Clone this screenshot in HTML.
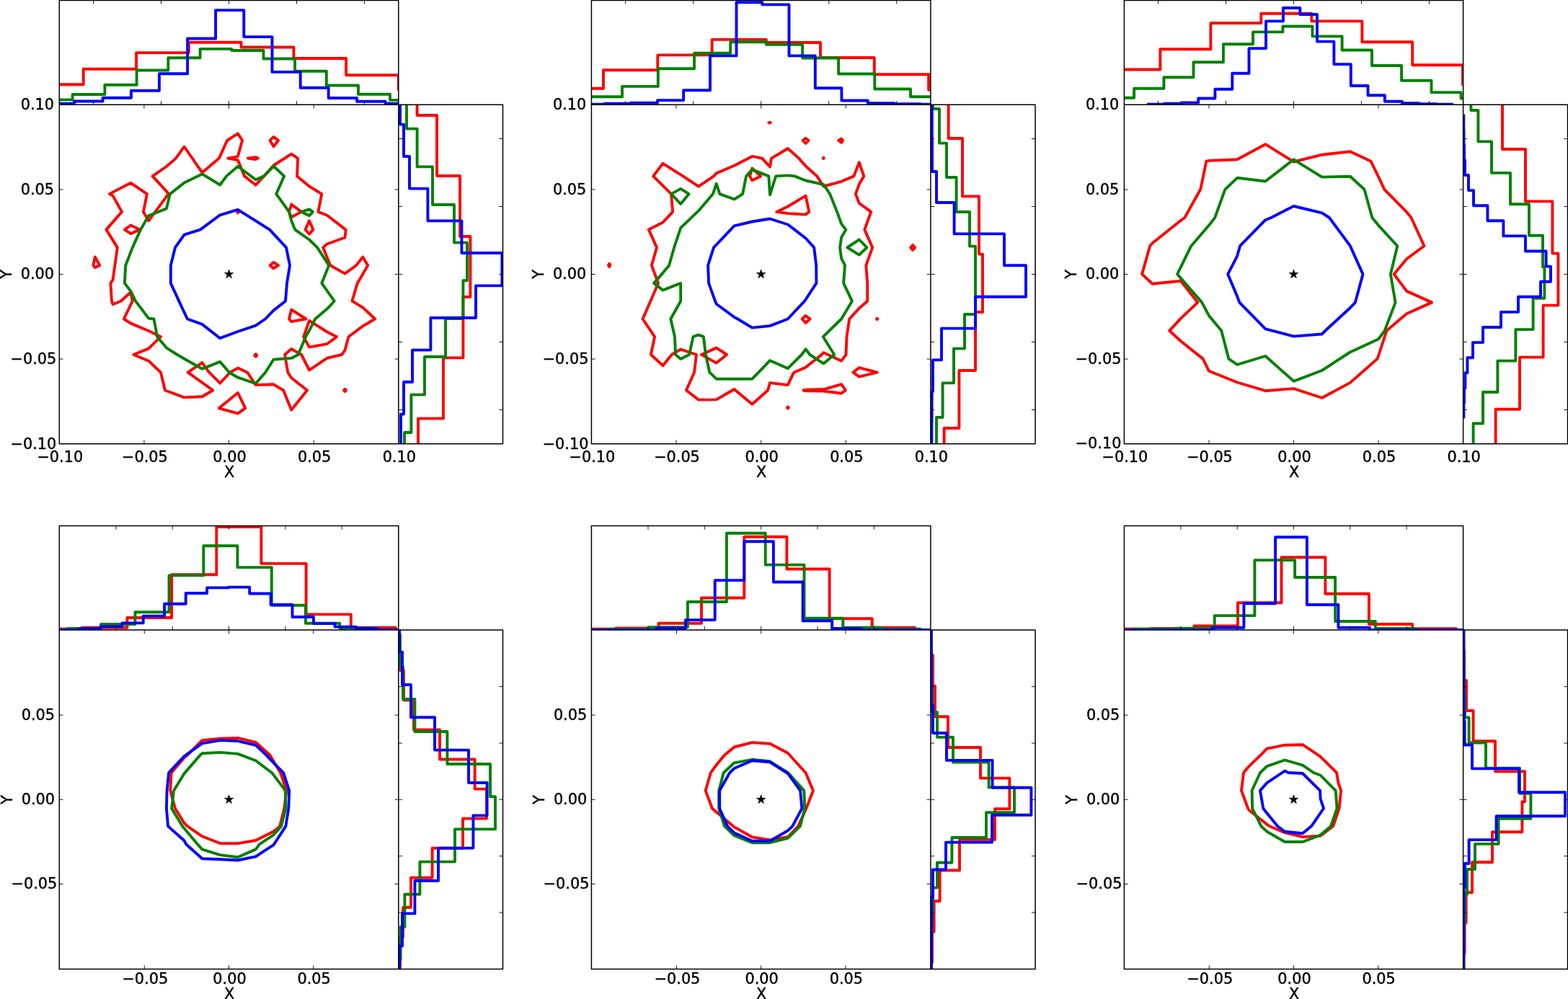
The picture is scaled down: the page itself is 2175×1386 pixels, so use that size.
<!DOCTYPE html>
<html lang="en">
<head>
<meta charset="utf-8">
<title>Contour and marginal histogram panels</title>
<style>
html,body{margin:0;padding:0;background:#fff;}
body{width:2175px;height:1386px;overflow:hidden;}
svg{display:block;}
.ln path{fill:none;stroke-linejoin:round;stroke-linecap:butt;stroke-miterlimit:10;}
.ct path{fill:none;stroke-linejoin:round;stroke-linecap:butt;stroke-miterlimit:4;}
.sp rect,.sp path{fill:none;stroke:#000;stroke-width:1.5;stroke-linejoin:round;}
.tk{fill:none;stroke:#000;stroke-width:0.9;}
.tx text{font-family:"DejaVu Sans","Liberation Sans",sans-serif;font-size:20.8px;fill:#000;stroke:#000;stroke-width:0.45px;stroke-linejoin:round;}
</style>
</head>
<body>
<svg width="2175" height="1386" viewBox="0 0 2175 1386">
<rect width="2175" height="1386" fill="#fff"/>
<clipPath id="c1"><rect x="82.3" y="0.4" width="470.5" height="144.9"/></clipPath>
<g clip-path="url(#c1)" class="ln">
<path d="M42.9 117.3 L115.7 117.3 L115.7 95.8 L189.1 95.8 L189.1 73.1 L262 73.1 L262 58.8 L334.5 58.8 L334.5 65.5 L407.4 65.5 L407.4 81 L480.1 81 L480.1 104.2 L552.9 104.2 L552.9 124.5 L626 124.5" stroke="#ff0000" stroke-width="3.9"/>
<path d="M56.7 138.4 L100.6 138.4 L100.6 131 L145.4 131 L145.4 117.8 L189.6 117.8 L189.6 97.5 L233.3 97.5 L233.3 80.3 L277.6 80.3 L277.6 67.9 L321.3 67.9 L321.3 70 L365.5 70 L365.5 81.5 L409.1 81.5 L409.1 98.7 L452.8 98.7 L452.8 118.5 L497 118.5 L497 130.7 L541 130.7 L541 138.9 L585 138.9" stroke="#008000" stroke-width="3.9"/>
<path d="M63.8 143.6 L103 143.6 L103 140.5 L142.5 140.5 L142.5 135.8 L181.9 135.8 L181.9 125.7 L220.9 125.7 L220.9 102.3 L260.1 102.3 L260.1 53.5 L299.1 53.5 L299.1 14.1 L338.3 14.1 L338.3 51.1 L377.5 51.1 L377.5 99.9 L416.7 99.9 L416.7 121.7 L455.7 121.7 L455.7 136 L495.1 136 L495.1 140.8 L534.6 140.8 L534.6 143.6 L573.8 143.6" stroke="#0000ff" stroke-width="3.9"/>
</g>
<clipPath id="c2"><rect x="552.8" y="145.3" width="144.7" height="470.4"/></clipPath>
<g clip-path="url(#c2)" class="ln">
<path d="M578.6 76 L578.6 160 L606 160 L606 244 L638 244 L638 328 L652.4 328 L652.4 412 L642.4 412 L642.4 496.4 L615 496.4 L615 580.6 L580 580.6 L580 664.8" stroke="#ff0000" stroke-width="3.9"/>
<path d="M564 126 L564 178.6 L578.6 178.6 L578.6 231.4 L600 231.4 L600 284 L630 284 L630 336.6 L648 336.6 L648 389.2 L642.4 389.2 L642.4 442 L618 442 L618 495 L589 495 L589 547.6 L570.4 547.6 L570.4 600 L561 600 L561 652.6" stroke="#008000" stroke-width="3.9"/>
<path d="M555 128 L555 172.6 L560 172.6 L560 217 L568 217 L568 261.6 L593.4 261.6 L593.4 306.4 L640.4 306.4 L640.4 351 L696.4 351 L696.4 396.4 L660 396.4 L660 441 L597.4 441 L597.4 485.6 L572 485.6 L572 530 L560 530 L560 574.6 L556 574.6 L556 619.2" stroke="#0000ff" stroke-width="3.9"/>
</g>
<clipPath id="c3"><rect x="82.3" y="145.3" width="470.5" height="470.4"/></clipPath>
<g clip-path="url(#c3)" class="ct">
<path d="M162.8 343.4 L147.4 318.6 L169 293.9 L156.6 271.6 L151.9 269.1 L156.6 266.6 L181.4 253.8 L203.9 269.1 L198.9 293.9 L206.1 306.3 L230.9 272.8 L233.9 269.1 L230.9 265.4 L211.6 244.4 L230.9 231 L244 219.6 L255.6 203.5 L280.4 239.4 L303.9 219.6 L305.2 216.9 L315.1 194.8 L329.9 185.4 L336.1 194.8 L329.9 217.1 L316.1 219.6 L329.9 222.1 L339.1 244.4 L354.7 256.7 L366.1 244.4 L379.5 229.5 L404.2 213.6 L413.1 219.6 L412.1 244.4 L429 258.5 L446.3 269.1 L441.4 293.9 L453.7 298.8 L478.5 317.9 L479.7 318.6 L478.5 329.5 L453.7 338.5 L448.1 343.4 L458.2 368.2 L478.5 379.6 L494.1 368.2 L503.3 356.5 L510.2 368.2 L495.8 392.9 L488.4 417.7 L503.3 426.6 L520.1 442.5 L503.3 452.4 L483.5 467.2 L478.5 485.8 L474.1 492 L453.7 496.9 L429 513.5 L418.1 492 L404.2 484.1 L395.1 492 L399.3 516.7 L404.2 524.2 L426 541.5 L404.2 568.8 L393.1 541.5 L379.5 533.3 L354.7 534.1 L343.1 516.7 L329.9 510.6 L319 516.7 L305.2 531.6 L290.1 516.7 L280.4 503.1 L260.6 516.7 L295.3 541.5 L280.4 550.2 L255.6 551.4 L228.9 541.5 L223 516.7 L206.1 500.7 L185.3 492 L206.1 483.6 L223 467.2 L206.1 459 L181.4 448.6 L171.9 442.5 L183.8 417.7 L181.4 405.3 L167.7 417.7 L156.6 422.2 L154.9 417.7 L153.4 392.9 L156.6 388Z" stroke="#ff0000" stroke-width="3.9"/>
<path d="M379.5 189.9 L386.1 194.8 L379.5 203.2 L374.5 194.8Z" stroke="#ff0000" stroke-width="3.9"/>
<path d="M343.6 219.6 L354.7 218.1 L357.9 219.6 L354.7 221.1Z" stroke="#ff0000" stroke-width="3.9"/>
<path d="M181.4 312.5 L193.7 318.6 L181.4 324.1 L172.9 318.6Z" stroke="#ff0000" stroke-width="3.9"/>
<path d="M131.8 356.5 L138.3 368.2 L131.8 371.1 L129.3 368.2Z" stroke="#ff0000" stroke-width="3.9"/>
<path d="M379.5 364 L386.1 368.2 L379.5 372.4 L374.5 368.2Z" stroke="#ff0000" stroke-width="3.9"/>
<path d="M429 306.3 L434.4 318.6 L429 324.6 L423.5 318.6Z" stroke="#ff0000" stroke-width="3.9"/>
<path d="M404.2 283.5 L418.1 293.9 L404.2 301.3 L401 293.9Z" stroke="#ff0000" stroke-width="3.9"/>
<path d="M329.9 293.4 L330.9 294.4 L329.9 295.4 L328.9 294.4Z" stroke="#ff0000" stroke-width="3.9"/>
<path d="M329.9 545 L340.3 566.3 L329.9 573.7 L303.7 566.3Z" stroke="#ff0000" stroke-width="3.9"/>
<path d="M404.2 429.6 L424.5 442.5 L404.2 446.2 L401 442.5Z" stroke="#ff0000" stroke-width="3.9"/>
<path d="M429 444.9 L453.7 460.5 L467.1 467.2 L453.7 477.1 L429 481.6 L421.1 467.2Z" stroke="#ff0000" stroke-width="3.9"/>
<path d="M354.7 491.2 L356.4 493 L354.7 494.7 L353 493Z" stroke="#ff0000" stroke-width="3.9"/>
<path d="M478.5 540 L480 541.5 L478.5 543 L477 541.5Z" stroke="#ff0000" stroke-width="3.9"/>
<path d="M188 417.7 L181.4 404.1 L172.9 392.9 L174.2 368.2 L183.8 343.4 L195 318.6 L206.1 299.3 L230.9 289.4 L235.8 269.1 L255.6 253.5 L280.4 241.4 L305.2 256.5 L314.1 244.4 L329.9 230.7 L354.7 249.3 L366.1 244.4 L379.5 230.5 L394.1 244.4 L383.2 269.1 L401 293.9 L404.2 306.3 L409.2 318.6 L429 332.5 L440.1 343.4 L456.2 368.2 L446.3 392.9 L463.7 417.7 L453.7 428.6 L437.2 442.5 L429 458.6 L424 467.2 L413.6 492 L404.2 496.9 L379.5 498.7 L368.1 516.7 L354.7 532.1 L329.9 523.7 L318 516.7 L305.2 501.9 L280.4 511.8 L255.6 497.7 L245.7 492 L230.9 482.6 L218 467.2 L213.5 442.5 L206.1 441.7Z" stroke="#008000" stroke-width="3.9"/>
<path d="M418.1 293.9 L429 290.4 L433.9 293.9 L429 299.3Z" stroke="#008000" stroke-width="3.9"/>
<path d="M236.8 392.9 L236.8 368.2 L243 343.4 L255.6 325.6 L277.9 318.6 L305.2 298.3 L329.9 290.9 L354.7 306.3 L374 318.6 L397 343.4 L402 368.2 L398 392.9 L396 417.7 L379.5 430.6 L368.1 442.5 L354.7 451.6 L329.9 460 L305.2 469.2 L280.4 449.9 L259.9 442.5 L248.2 417.7Z" stroke="#0000ff" stroke-width="3.9"/>
</g>
<polygon points="317.5,374 319,378.5 323.7,378.5 319.9,381.3 321.4,385.8 317.5,383 313.7,385.8 315.2,381.3 311.4,378.5 316.1,378.5" fill="#000" stroke="#000" stroke-width="0.7" stroke-linejoin="miter"/>
<g class="sp">
<path d="M82.3 145.3V0.4H552.8V145.3"/>
<path d="M552.8 145.3H697.5V615.8H552.8"/>
<rect x="82.3" y="145.3" width="470.5" height="470.4"/>
</g>
<path class="tk" d="M199.9 615.8v-5.2M199.9 145.3v5.2M82.3 498.1h5.2M552.8 498.1h-5.2M317.5 615.8v-5.2M317.5 145.3v5.2M82.3 380.5h5.2M552.8 380.5h-5.2M435.2 615.8v-5.2M435.2 145.3v5.2M82.3 262.9h5.2M552.8 262.9h-5.2M129.5 145.3v-5.2M129.5 0.4v5.2M552.8 568.5h5.2M697.5 568.5h-5.2M223.5 145.3v-5.2M223.5 0.4v5.2M552.8 474.5h5.2M697.5 474.5h-5.2M317.5 145.3v-5.2M317.5 0.4v5.2M552.8 380.5h5.2M697.5 380.5h-5.2M411.5 145.3v-5.2M411.5 0.4v5.2M552.8 286.5h5.2M697.5 286.5h-5.2M505.5 145.3v-5.2M505.5 0.4v5.2M552.8 192.5h5.2M697.5 192.5h-5.2"/>
<g class="tx">
<text x="83.3" y="640.7" text-anchor="middle">−0.10</text>
<text x="200.9" y="640.7" text-anchor="middle">−0.05</text>
<text x="318.5" y="640.7" text-anchor="middle">0.00</text>
<text x="436.2" y="640.7" text-anchor="middle">0.05</text>
<text x="553.8" y="640.7" text-anchor="middle">0.10</text>
<text x="78.3" y="622.6" text-anchor="end">−0.10</text>
<text x="78.3" y="504.9" text-anchor="end">−0.05</text>
<text x="75.1" y="387.3" text-anchor="end">0.00</text>
<text x="75.1" y="269.7" text-anchor="end">0.05</text>
<text x="75.1" y="152.1" text-anchor="end">0.10</text>
<text x="318" y="661.6" text-anchor="middle">X</text>
<text transform="translate(15.9 380.5) rotate(-90)" text-anchor="middle">Y</text>
</g>
<clipPath id="c4"><rect x="820.4" y="0.4" width="470.5" height="144.9"/></clipPath>
<g clip-path="url(#c4)" class="ln">
<path d="M761.8 122.8 L837 122.8 L837 97.2 L912.3 97.2 L912.3 76.4 L987.6 76.4 L987.6 54.9 L1062.9 54.9 L1062.9 59 L1138 59 L1138 80 L1212.8 80 L1212.8 103.2 L1288.1 103.2 L1288.1 124.7 L1363.3 124.7" stroke="#ff0000" stroke-width="3.9"/>
<path d="M813 134.3 L863 134.3 L863 119.9 L912.8 119.9 L912.8 95.3 L963 95.3 L963 73.8 L1013.2 73.8 L1013.2 58.3 L1062.9 58.3 L1062.9 61.8 L1113.1 61.8 L1113.1 80.5 L1163.1 80.5 L1163.1 102.5 L1213.3 102.5 L1213.3 123.5 L1263 123.5 L1263 134.3 L1313 134.3" stroke="#008000" stroke-width="3.9"/>
<path d="M802 144.6 L838.6 144.6 L838.6 143.8 L875 143.8 L875 142.7 L912 142.7 L912 139.1 L948.1 139.1 L948.1 125.2 L985 125.2 L985 77.4 L1021.5 77.4 L1021.5 3.3 L1057.4 3.3 L1057.4 6.4 L1094.5 6.4 L1094.5 77.4 L1130.8 77.4 L1130.8 122.3 L1167.4 122.3 L1167.4 139.5 L1203.7 139.5 L1203.7 143.1 L1240.3 143.1 L1240.3 144.1 L1276.9 144.1 L1276.9 144.6 L1313.5 144.6" stroke="#0000ff" stroke-width="3.9"/>
</g>
<clipPath id="c5"><rect x="1290.9" y="145.3" width="145.1" height="470.4"/></clipPath>
<g clip-path="url(#c5)" class="ln">
<path d="M1315.6 111.5 L1315.6 192 L1335 192 L1335 272.4 L1358 272.4 L1358 352.6 L1363 352.6 L1363 433 L1353 433 L1353 514 L1330.4 514 L1330.4 594 L1309.6 594 L1309.6 674.5" stroke="#ff0000" stroke-width="3.9"/>
<path d="M1294 103.4 L1294 151 L1303 151 L1303 198.6 L1313 198.6 L1313 246 L1326.6 246 L1326.6 294 L1345 294 L1345 341.6 L1353 341.6 L1353 389 L1353 389 L1353 436 L1338 436 L1338 483.6 L1323 483.6 L1323 531.4 L1307.6 531.4 L1307.6 579 L1299 579 L1299 626.6" stroke="#008000" stroke-width="3.9"/>
<path d="M1292.6 107 L1292.6 150.8 L1292.8 150.8 L1292.8 194.4 L1293 194.4 L1293 238 L1299 238 L1299 281 L1323.6 281 L1323.6 324.4 L1393 324.4 L1393 368.2 L1423 368.2 L1423 411.8 L1353 411.8 L1353 455.6 L1306 455.6 L1306 499.4 L1294 499.4 L1294 543 L1292.6 543 L1292.6 586.6 L1292.4 586.6 L1292.4 630.2" stroke="#0000ff" stroke-width="3.9"/>
</g>
<clipPath id="c6"><rect x="820.4" y="145.3" width="470.5" height="470.4"/></clipPath>
<g clip-path="url(#c6)" class="ct">
<path d="M903.9 368.2 L911 343.4 L899.9 318.6 L919.5 308.5 L933.1 293.9 L931.1 269.1 L906.1 244.4 L919.5 226.8 L944.2 242.4 L969 258.7 L990 244.4 L993.7 240.4 L1018.5 229.7 L1043.3 216.9 L1057.1 219.6 L1068 231.5 L1070 219.6 L1092.8 206 L1108.1 219.6 L1117.6 230.5 L1133.2 244.4 L1142.3 258.5 L1167.1 251.8 L1184.4 244.4 L1191.8 225.3 L1198.3 244.4 L1191.8 255.5 L1186.9 269.1 L1191.8 282 L1208.2 293.9 L1199.3 318.6 L1210.2 343.4 L1201.3 368.2 L1203.2 392.9 L1203.2 417.7 L1191.8 427.6 L1178.2 442.5 L1174.5 467.2 L1173.5 492 L1167.1 500.7 L1148.5 492 L1142.3 489.3 L1139.8 492 L1117.6 509.6 L1101.2 516.7 L1092.8 534.1 L1068 531.1 L1065.1 541.5 L1043.3 560.8 L1020.2 541.5 L1018.5 540 L1016 541.5 L993.7 554.4 L969 554.6 L951.9 541.5 L963 516.7 L966 492 L944.2 484.6 L931.8 492 L919.5 507.3 L902.9 492 L908.1 467.2 L891.5 442.5 L902.4 417.7 L913 392.9Z" stroke="#ff0000" stroke-width="3.9"/>
<path d="M1067.5 169.8 L1068.8 170.1 L1067.5 170.6 L1066.3 170.1Z" stroke="#ff0000" stroke-width="3.9"/>
<path d="M1117.6 191.9 L1121.5 194.8 L1117.6 198.8 L1113.6 194.8Z" stroke="#ff0000" stroke-width="3.9"/>
<path d="M1167.1 192.4 L1169.1 194.8 L1167.1 197.8 L1163.1 194.8Z" stroke="#ff0000" stroke-width="3.9"/>
<path d="M1142.3 218.7 L1142.9 219.3 L1142.3 220 L1141.7 219.3Z" stroke="#ff0000" stroke-width="3.9"/>
<path d="M1043.3 233.5 L1055.2 244.4 L1043.3 250.3 L1040 244.4Z" stroke="#ff0000" stroke-width="3.9"/>
<path d="M1117.6 271.6 L1122.3 293.9 L1117.6 297.6 L1092.8 296.1 L1077.2 293.9 L1092.8 286.5Z" stroke="#ff0000" stroke-width="3.9"/>
<path d="M845.2 365.7 L846.4 368.2 L845.2 370.1 L843.9 368.2Z" stroke="#ff0000" stroke-width="3.9"/>
<path d="M1266.1 339.9 L1269.1 343.4 L1266.1 346.9 L1263.2 343.4Z" stroke="#ff0000" stroke-width="3.9"/>
<path d="M993.7 482.6 L1008.1 492 L993.7 503.6 L972.9 492Z" stroke="#ff0000" stroke-width="3.9"/>
<path d="M1117.6 438 L1123.5 442.5 L1117.6 447.9 L1112.6 442.5Z" stroke="#ff0000" stroke-width="3.9"/>
<path d="M1216.6 441.7 L1217.4 442.5 L1216.6 443.2 L1215.9 442.5Z" stroke="#ff0000" stroke-width="3.9"/>
<path d="M1191.8 510.1 L1216.6 516.7 L1191.8 522.7 L1183.2 516.7Z" stroke="#ff0000" stroke-width="3.9"/>
<path d="M1114.3 541.5 L1117.6 540.8 L1142.3 540.3 L1167.1 533.1 L1173 541.5 L1167.1 545.7 L1142.3 542.5 L1117.6 542.3Z" stroke="#ff0000" stroke-width="3.9"/>
<path d="M1092.8 564.5 L1093.8 565.5 L1092.8 566.5 L1091.8 565.5Z" stroke="#ff0000" stroke-width="3.9"/>
<path d="M944.2 417.7 L944.2 392.9 L919.5 402.6 L907.1 392.9 L919.5 378.6 L928.1 368.2 L935.1 343.4 L944.2 316.2 L969 292.4 L989 269.1 L993.7 254.8 L998.4 269.1 L1018.5 276.5 L1030.1 269.1 L1035.1 244.4 L1043.3 235.4 L1066.3 244.4 L1068 270.4 L1076.2 244.4 L1092.8 243.4 L1102.2 244.4 L1117.6 250.5 L1142.3 256 L1151.2 269.1 L1161.1 293.9 L1167.1 310.5 L1173.3 318.6 L1167.1 329.5 L1165.1 343.4 L1167.1 358.5 L1172 368.2 L1170.1 392.9 L1181.9 417.7 L1167.1 442.5 L1141.8 467.2 L1157.2 492 L1142.3 504.4 L1123.3 492 L1117.6 484.3 L1112.1 492 L1092.8 511.1 L1068 500.2 L1052.2 516.7 L1043.3 525.7 L1018.5 525.7 L993.7 525.7 L984.3 516.7 L978.9 492 L975.9 467.2 L969 464.7 L961.5 467.2 L956.1 492 L944.2 497.9 L937 492 L936 467.2 L930.3 442.5Z" stroke="#008000" stroke-width="3.9"/>
<path d="M944.2 261.9 L955.6 269.1 L944.2 283 L931.1 269.1Z" stroke="#008000" stroke-width="3.9"/>
<path d="M1191.8 332.5 L1202.5 343.4 L1191.8 353.6 L1175.3 343.4Z" stroke="#008000" stroke-width="3.9"/>
<path d="M982.1 368.2 L990 343.4 L1018.5 313.4 L1043.3 307.5 L1068 303.5 L1092.8 311.5 L1102.2 318.6 L1117.6 330.5 L1129.2 343.4 L1132.2 368.2 L1132.4 392.9 L1116.1 417.7 L1092.8 442.5 L1068 452.1 L1043.3 454.6 L1023.2 442.5 L1018.5 440 L993.7 421.7 L992 417.7 L983.1 392.9Z" stroke="#0000ff" stroke-width="3.9"/>
</g>
<polygon points="1055.7,374 1057.1,378.5 1061.8,378.5 1058,381.3 1059.5,385.8 1055.7,383 1051.8,385.8 1053.3,381.3 1049.5,378.5 1054.2,378.5" fill="#000" stroke="#000" stroke-width="0.7" stroke-linejoin="miter"/>
<g class="sp">
<path d="M820.4 145.3V0.4H1290.9V145.3"/>
<path d="M1290.9 145.3H1436V615.8H1290.9"/>
<rect x="820.4" y="145.3" width="470.5" height="470.4"/>
</g>
<path class="tk" d="M938 615.8v-5.2M938 145.3v5.2M820.4 498.1h5.2M1290.9 498.1h-5.2M1055.7 615.8v-5.2M1055.7 145.3v5.2M820.4 380.5h5.2M1290.9 380.5h-5.2M1173.3 615.8v-5.2M1173.3 145.3v5.2M820.4 262.9h5.2M1290.9 262.9h-5.2M867.7 145.3v-5.2M867.7 0.4v5.2M1290.9 568.5h5.2M1436 568.5h-5.2M961.7 145.3v-5.2M961.7 0.4v5.2M1290.9 474.5h5.2M1436 474.5h-5.2M1055.7 145.3v-5.2M1055.7 0.4v5.2M1290.9 380.5h5.2M1436 380.5h-5.2M1149.7 145.3v-5.2M1149.7 0.4v5.2M1290.9 286.5h5.2M1436 286.5h-5.2M1243.7 145.3v-5.2M1243.7 0.4v5.2M1290.9 192.5h5.2M1436 192.5h-5.2"/>
<g class="tx">
<text x="821.4" y="640.7" text-anchor="middle">−0.10</text>
<text x="939" y="640.7" text-anchor="middle">−0.05</text>
<text x="1056.7" y="640.7" text-anchor="middle">0.00</text>
<text x="1174.3" y="640.7" text-anchor="middle">0.05</text>
<text x="1291.9" y="640.7" text-anchor="middle">0.10</text>
<text x="816.4" y="622.6" text-anchor="end">−0.10</text>
<text x="816.4" y="504.9" text-anchor="end">−0.05</text>
<text x="813.2" y="387.3" text-anchor="end">0.00</text>
<text x="813.2" y="269.7" text-anchor="end">0.05</text>
<text x="813.2" y="152.1" text-anchor="end">0.10</text>
<text x="1056.2" y="661.6" text-anchor="middle">X</text>
<text transform="translate(754 380.5) rotate(-90)" text-anchor="middle">Y</text>
</g>
<clipPath id="c7"><rect x="1559.4" y="0.4" width="470.2" height="144.9"/></clipPath>
<g clip-path="url(#c7)" class="ln">
<path d="M1539.5 96.5 L1609.4 96.5 L1609.4 68.3 L1679.4 68.3 L1679.4 32 L1749.3 32 L1749.3 18.8 L1819.3 18.8 L1819.3 29.4 L1889.4 29.4 L1889.4 58.3 L1959.2 58.3 L1959.2 90.3 L2029 90.3 L2029 117.2 L2099 117.2" stroke="#ff0000" stroke-width="3.9"/>
<path d="M1531.8 135.8 L1573.1 135.8 L1573.1 122.8 L1614.4 122.8 L1614.4 107.3 L1655.5 107.3 L1655.5 86.3 L1696.9 86.3 L1696.9 61.2 L1738 61.2 L1738 44.4 L1779.4 44.4 L1779.4 36.5 L1820.5 36.5 L1820.5 50.4 L1861.6 50.4 L1861.6 69.5 L1903 69.5 L1903 91 L1944.1 91 L1944.1 111.8 L1985.5 111.8 L1985.5 128.1 L2026.6 128.1 L2026.6 136.5 L2068 136.5" stroke="#008000" stroke-width="3.9"/>
<path d="M1591 144.6 L1614.9 144.6 L1614.9 143.6 L1638.8 143.6 L1638.8 142.5 L1662.2 142.5 L1662.2 136.5 L1685.4 136.5 L1685.4 123.8 L1709.3 123.8 L1709.3 101.8 L1732.5 101.8 L1732.5 67.1 L1756 67.1 L1756 29.4 L1779.9 29.4 L1779.9 11 L1803.3 11 L1803.3 20 L1827 20 L1827 57.6 L1850.4 57.6 L1850.4 89.1 L1873.8 89.1 L1873.8 119 L1897.5 119 L1897.5 132.2 L1920.9 132.2 L1920.9 140.8 L1944.8 140.8 L1944.8 143.2 L1968.7 143.2 L1968.7 144.1 L1992.2 144.1 L1992.2 144.8 L2016 144.8" stroke="#0000ff" stroke-width="3.9"/>
</g>
<clipPath id="c8"><rect x="2029.6" y="145.3" width="144.9" height="470.4"/></clipPath>
<g clip-path="url(#c8)" class="ln">
<path d="M2084 135 L2084 207 L2116 207 L2116 279.4 L2153.4 279.4 L2153.4 351.6 L2161.4 351.6 L2161.4 423.6 L2140.6 423.6 L2140.6 495.6 L2108 495.6 L2108 567.7 L2074.6 567.7 L2074.6 640" stroke="#ff0000" stroke-width="3.9"/>
<path d="M2040.4 109.6 L2040.4 153 L2050.4 153 L2050.4 196.4 L2069 196.4 L2069 239.9 L2095 239.9 L2095 283.3 L2121 283.3 L2121 326.8 L2140 326.8 L2140 370.2 L2142.4 370.2 L2142.4 413.7 L2126.6 413.7 L2126.6 457.1 L2102.4 457.1 L2102.4 500.6 L2077.4 500.6 L2077.4 544 L2057 544 L2057 587.5 L2043.6 587.5 L2043.6 631" stroke="#008000" stroke-width="3.9"/>
<path d="M2030.3 158.6 L2030.3 179.7 L2030.5 179.7 L2030.5 200.8 L2031 200.8 L2031 221.9 L2032 221.9 L2032 243 L2037 243 L2037 264.1 L2044 264.1 L2044 285.2 L2063.4 285.2 L2063.4 306.3 L2085.4 306.3 L2085.4 327.4 L2116 327.4 L2116 348.5 L2144.6 348.5 L2144.6 369.6 L2151 369.6 L2151 390.7 L2137 390.7 L2137 411.8 L2106 411.8 L2106 432.9 L2082 432.9 L2082 454 L2057 454 L2057 475.1 L2043 475.1 L2043 496.2 L2035.4 496.2 L2035.4 517.3 L2032.4 517.3 L2032.4 538.4 L2031 538.4 L2031 559.5 L2030.4 559.5 L2030.4 580.6" stroke="#0000ff" stroke-width="3.9"/>
</g>
<clipPath id="c9"><rect x="1559.4" y="145.3" width="470.2" height="470.4"/></clipPath>
<g clip-path="url(#c9)" class="ct">
<path d="M1584.1 380.4 L1595.1 341.2 L1598.6 337.3 L1637.8 306 L1643.3 302 L1665.2 262.8 L1673.4 223.7 L1677 222.9 L1716.1 221.3 L1755.3 200.2 L1794.5 224.5 L1833.7 214.7 L1872.9 210.3 L1901.5 223.7 L1912 245.2 L1920.3 262.8 L1951.2 294.2 L1957.5 302 L1975.5 341.2 L1951.2 359.2 L1933.6 380.4 L1951.2 403.9 L1986.1 419.6 L1951.2 435.3 L1923.4 458.8 L1912 494 L1910.5 497.9 L1872.9 530.9 L1833.7 552 L1794.5 539.1 L1755.3 542.2 L1716.1 530.5 L1677 514.8 L1668.7 497.9 L1637.8 473.3 L1622.1 458.8 L1637.8 441.9 L1661.3 419.6 L1637.8 389.8 L1598.6 393.7Z" stroke="#ff0000" stroke-width="3.9"/>
<path d="M1633.1 380.4 L1652.3 341.2 L1677 312.6 L1685.2 302 L1699.3 262.8 L1716.1 246.8 L1755.3 251.5 L1794.5 221.3 L1833.7 245.6 L1872.9 244.8 L1892.5 262.8 L1903.4 302 L1912 312.6 L1938.3 341.2 L1928.9 380.4 L1935.6 419.6 L1920.7 458.8 L1912 470.5 L1872.9 488.5 L1858.4 497.9 L1833.7 514 L1794.5 528.9 L1755.3 494 L1716.1 505.8 L1704.4 497.9 L1694.2 458.8 L1677 438 L1667.2 419.6 L1637.8 385.9Z" stroke="#008000" stroke-width="3.9"/>
<path d="M1703.2 380.4 L1716.1 355.3 L1720.1 341.2 L1755.3 305.2 L1763.2 302 L1794.5 286 L1833.7 295.4 L1843.9 302 L1872.9 341.2 L1890.5 380.4 L1879.9 419.6 L1872.9 427 L1838.4 458.8 L1833.7 463.5 L1794.5 466.6 L1755.3 456.4 L1719.3 419.6 L1716.1 411Z" stroke="#0000ff" stroke-width="3.9"/>
</g>
<polygon points="1794.5,374 1796,378.5 1800.7,378.5 1796.9,381.3 1798.3,385.8 1794.5,383 1790.7,385.8 1792.1,381.3 1788.3,378.5 1793,378.5" fill="#000" stroke="#000" stroke-width="0.7" stroke-linejoin="miter"/>
<g class="sp">
<path d="M1559.4 145.3V0.4H2029.6V145.3"/>
<path d="M2029.6 145.3H2174.5V615.8H2029.6"/>
<rect x="1559.4" y="145.3" width="470.2" height="470.4"/>
</g>
<path class="tk" d="M1677 615.8v-5.2M1677 145.3v5.2M1559.4 498.1h5.2M2029.6 498.1h-5.2M1794.5 615.8v-5.2M1794.5 145.3v5.2M1559.4 380.5h5.2M2029.6 380.5h-5.2M1912 615.8v-5.2M1912 145.3v5.2M1559.4 263h5.2M2029.6 263h-5.2M1606.5 145.3v-5.2M1606.5 0.4v5.2M2029.6 568.5h5.2M2174.5 568.5h-5.2M1700.5 145.3v-5.2M1700.5 0.4v5.2M2029.6 474.5h5.2M2174.5 474.5h-5.2M1794.5 145.3v-5.2M1794.5 0.4v5.2M2029.6 380.5h5.2M2174.5 380.5h-5.2M1888.5 145.3v-5.2M1888.5 0.4v5.2M2029.6 286.5h5.2M2174.5 286.5h-5.2M1982.5 145.3v-5.2M1982.5 0.4v5.2M2029.6 192.5h5.2M2174.5 192.5h-5.2"/>
<g class="tx">
<text x="1560.4" y="640.7" text-anchor="middle">−0.10</text>
<text x="1678" y="640.7" text-anchor="middle">−0.05</text>
<text x="1795.5" y="640.7" text-anchor="middle">0.00</text>
<text x="1913" y="640.7" text-anchor="middle">0.05</text>
<text x="2030.6" y="640.7" text-anchor="middle">0.10</text>
<text x="1555.4" y="622.4" text-anchor="end">−0.10</text>
<text x="1555.4" y="504.9" text-anchor="end">−0.05</text>
<text x="1552.2" y="387.3" text-anchor="end">0.00</text>
<text x="1552.2" y="269.8" text-anchor="end">0.05</text>
<text x="1552.2" y="152.2" text-anchor="end">0.10</text>
<text x="1795" y="661.6" text-anchor="middle">X</text>
<text transform="translate(1493 380.5) rotate(-90)" text-anchor="middle">Y</text>
</g>
<clipPath id="c10"><rect x="82.3" y="729.4" width="470.5" height="144.6"/></clipPath>
<g clip-path="url(#c10)" class="ln">
<path d="M51.6 872.7 L113.8 872.7 L113.8 870.8 L176.4 870.8 L176.4 857 L238.1 857 L238.1 797.2 L300.3 797.2 L300.3 731 L362.4 731 L362.4 781.9 L424.6 781.9 L424.6 852.4 L486.8 852.4 L486.8 870.8 L548.9 870.8 L548.9 873.9 L611 873.9" stroke="#ff0000" stroke-width="3.9"/>
<path d="M46.2 873.9 L93.5 873.9 L93.5 872 L140.1 872 L140.1 866 L187.4 866 L187.4 849.3 L234.5 849.3 L234.5 798.4 L282.3 798.4 L282.3 757.3 L329.4 757.3 L329.4 787.1 L376.8 787.1 L376.8 839.7 L423.9 839.7 L423.9 864.8 L471.2 864.8 L471.2 871.5 L518.6 871.5 L518.6 873.9 L565.8 873.9" stroke="#008000" stroke-width="3.9"/>
<path d="M80.7 873.9 L110.2 873.9 L110.2 872 L139.6 872 L139.6 869.1 L169.3 869.1 L169.3 864.4 L198.7 864.4 L198.7 854.6 L228.1 854.6 L228.1 837.8 L257.7 837.8 L257.7 823 L287.1 823 L287.1 815.4 L317 815.4 L317 814.6 L346.2 814.6 L346.2 823.5 L375.6 823.5 L375.6 839 L405.5 839 L405.5 856 L434.9 856 L434.9 865.1 L464.5 865.1 L464.5 869.6 L493.9 869.6 L493.9 871.7 L523.8 871.7 L523.8 873.9 L553.3 873.9" stroke="#0000ff" stroke-width="3.9"/>
</g>
<clipPath id="c11"><rect x="552.8" y="874" width="144.7" height="470.5"/></clipPath>
<g clip-path="url(#c11)" class="ln">
<path d="M553.6 848 L553.6 889 L555 889 L555 930 L560 930 L560 971.3 L574 971.3 L574 1012.4 L610 1012.4 L610 1053.5 L658.6 1053.5 L658.6 1094.6 L675 1094.6 L675 1135.6 L642 1135.6 L642 1176.7 L599.6 1176.7 L599.6 1217.8 L570 1217.8 L570 1259 L559 1259 L559 1300 L555 1300 L555 1341 L553.6 1341 L553.6 1382" stroke="#ff0000" stroke-width="3.9"/>
<path d="M553.8 835 L553.8 880 L555 880 L555 925 L559 925 L559 970 L575.4 970 L575.4 1015 L620.4 1015 L620.4 1060 L680 1060 L680 1105.2 L687 1105.2 L687 1150.4 L631 1150.4 L631 1195.6 L582.4 1195.6 L582.4 1240.8 L561.4 1240.8 L561.4 1286 L555.6 1286 L555.6 1331.2 L553.5 1331.2 L553.5 1376" stroke="#008000" stroke-width="3.9"/>
<path d="M553.6 813.5 L553.6 859 L554 859 L554 904.6 L558 904.6 L558 950 L570 950 L570 995.3 L603 995.3 L603 1040.6 L650 1040.6 L650 1086 L675.6 1086 L675.6 1131.4 L656.4 1131.4 L656.4 1176.6 L608 1176.6 L608 1222 L575.4 1222 L575.4 1267.4 L558 1267.4 L558 1312.6 L554.4 1312.6 L554.4 1358" stroke="#0000ff" stroke-width="3.9"/>
</g>
<clipPath id="c12"><rect x="82.3" y="874" width="470.5" height="470.5"/></clipPath>
<g clip-path="url(#c12)" class="ct">
<path d="M280.4 1027.1 L305.2 1024.6 L329.9 1023.9 L354.7 1029.8 L374.3 1047.4 L379.5 1056.3 L389.1 1072.2 L397.3 1096.9 L394.3 1121.7 L388.1 1146.4 L379.5 1153.4 L354.7 1166 L329.9 1170.2 L305.2 1170 L280.4 1160.3 L260.1 1146.4 L255.6 1142 L243 1121.7 L236.3 1096.9 L237.6 1072.2 L255.6 1051.1 L260.1 1047.4Z" stroke="#ff0000" stroke-width="3.9"/>
<path d="M280.4 1045.2 L305.2 1043.9 L329.9 1045.9 L354.7 1055.3 L377.2 1072.2 L395.8 1096.9 L396.3 1121.7 L390.1 1146.4 L379.5 1158.3 L360.1 1171.2 L354.7 1178.4 L329.9 1189.3 L305.2 1186.1 L280.4 1178.4 L274 1171.2 L253.2 1146.4 L238.1 1121.7 L241 1096.9 L255.6 1073.1 L277.9 1047.4Z" stroke="#008000" stroke-width="3.9"/>
<path d="M280.4 1031.3 L305.2 1027.1 L329.9 1028.1 L354.7 1033.8 L369.1 1047.4 L379.5 1058.3 L393.1 1072.2 L401.2 1096.9 L400.3 1121.7 L396.3 1146.4 L379.5 1172.2 L354.7 1188.3 L329.9 1193.5 L305.2 1192.3 L280.4 1191.3 L258.1 1171.2 L255.6 1166.3 L233.1 1146.4 L230.9 1121.7 L231.6 1096.9 L234.1 1072.2 L255.6 1049.1Z" stroke="#0000ff" stroke-width="3.9"/>
</g>
<polygon points="317.5,1102.8 319,1107.3 323.7,1107.3 319.9,1110.1 321.4,1114.6 317.5,1111.8 313.7,1114.6 315.2,1110.1 311.4,1107.3 316.1,1107.3" fill="#000" stroke="#000" stroke-width="0.7" stroke-linejoin="miter"/>
<g class="sp">
<path d="M82.3 874V729.4H552.8V874"/>
<path d="M552.8 874H697.5V1344.6H552.8"/>
<rect x="82.3" y="874" width="470.5" height="470.5"/>
</g>
<path class="tk" d="M200.3 1344.6v-5.2M200.3 874v5.2M82.3 1226.5h5.2M552.8 1226.5h-5.2M317.5 1344.6v-5.2M317.5 874v5.2M82.3 1109.3h5.2M552.8 1109.3h-5.2M434.7 1344.6v-5.2M434.7 874v5.2M82.3 992.1h5.2M552.8 992.1h-5.2M160.8 874v-5.2M160.8 729.4v5.2M552.8 1266h5.2M697.5 1266h-5.2M239.2 874v-5.2M239.2 729.4v5.2M552.8 1187.7h5.2M697.5 1187.7h-5.2M317.5 874v-5.2M317.5 729.4v5.2M552.8 1109.3h5.2M697.5 1109.3h-5.2M395.9 874v-5.2M395.9 729.4v5.2M552.8 1031h5.2M697.5 1031h-5.2M474.2 874v-5.2M474.2 729.4v5.2M552.8 952.6h5.2M697.5 952.6h-5.2"/>
<g class="tx">
<text x="201.3" y="1365.3" text-anchor="middle">−0.05</text>
<text x="318.5" y="1365.3" text-anchor="middle">0.00</text>
<text x="435.7" y="1365.3" text-anchor="middle">0.05</text>
<text x="79.3" y="1233.3" text-anchor="end">−0.05</text>
<text x="76.1" y="1116.1" text-anchor="end">0.00</text>
<text x="76.1" y="998.9" text-anchor="end">0.05</text>
<text x="318" y="1385.7" text-anchor="middle">X</text>
<text transform="translate(16.8 1109.3) rotate(-90)" text-anchor="middle">Y</text>
</g>
<clipPath id="c13"><rect x="820.4" y="729.4" width="470.5" height="144.6"/></clipPath>
<g clip-path="url(#c13)" class="ln">
<path d="M795 872.7 L854.2 872.7 L854.2 871.5 L913.5 871.5 L913.5 864.8 L973 864.8 L973 829.5 L1032.3 829.5 L1032.3 744.8 L1091.4 744.8 L1091.4 789.5 L1150.6 789.5 L1150.6 858.2 L1209.7 858.2 L1209.7 870.8 L1269 870.8 L1269 873.9 L1328 873.9" stroke="#ff0000" stroke-width="3.9"/>
<path d="M791 873.9 L845.7 873.9 L845.7 872.7 L899.6 872.7 L899.6 870.1 L953.9 870.1 L953.9 835 L1007.9 835 L1007.9 739.8 L1061.7 739.8 L1061.7 783.6 L1115.5 783.6 L1115.5 857.7 L1169.3 857.7 L1169.3 870.8 L1223.1 870.8 L1223.1 872.7 L1277 872.7 L1277 873.9 L1331 873.9" stroke="#008000" stroke-width="3.9"/>
<path d="M788 873.9 L829 873.9 L829 873.9 L869.7 873.9 L869.7 873.9 L910.4 873.9 L910.4 871.5 L951 871.5 L951 860.1 L991.7 860.1 L991.7 805.1 L1032.3 805.1 L1032.3 751.3 L1072.9 751.3 L1072.9 807.5 L1113.6 807.5 L1113.6 861.3 L1154.2 861.3 L1154.2 872 L1194.9 872 L1194.9 873.9 L1235.5 873.9 L1235.5 873.9 L1276 873.9 L1276 873.9 L1317 873.9" stroke="#0000ff" stroke-width="3.9"/>
</g>
<clipPath id="c14"><rect x="1290.9" y="874" width="145.1" height="470.5"/></clipPath>
<g clip-path="url(#c14)" class="ln">
<path d="M1291.6 823.5 L1291.6 866 L1292 866 L1292 909 L1294 909 L1294 951.6 L1297 951.6 L1297 994.3 L1315 994.3 L1315 1037 L1360 1037 L1360 1079.6 L1400.4 1079.6 L1400.4 1122.2 L1380 1122.2 L1380 1164.9 L1331 1164.9 L1331 1207.5 L1303.6 1207.5 L1303.6 1250.2 L1295.6 1250.2 L1295.6 1292.8 L1293 1292.8 L1293 1335.5 L1292 1335.5 L1292 1378" stroke="#ff0000" stroke-width="3.9"/>
<path d="M1291.6 849 L1291.6 884 L1291.8 884 L1291.8 918.5 L1292 918.5 L1292 953 L1293 953 L1293 988 L1300 988 L1300 1022.8 L1322 1022.8 L1322 1057.6 L1371.6 1057.6 L1371.6 1092.4 L1407 1092.4 L1407 1127.2 L1368 1127.2 L1368 1162 L1320.4 1162 L1320.4 1196.8 L1300 1196.8 L1300 1231.6 L1294 1231.6 L1294 1266.4 L1292.6 1266.4 L1292.6 1301 L1292 1301 L1292 1336 L1291.8 1336 L1291.8 1371" stroke="#008000" stroke-width="3.9"/>
<path d="M1291.6 865 L1291.6 903 L1291.8 903 L1291.8 941 L1292 941 L1292 979 L1294 979 L1294 1017 L1313 1017 L1313 1054.9 L1376.6 1054.9 L1376.6 1092.8 L1430.4 1092.8 L1430.4 1130.7 L1376 1130.7 L1376 1168.6 L1312 1168.6 L1312 1206.5 L1294 1206.5 L1294 1244.4 L1292.4 1244.4 L1292.4 1282.3 L1292 1282.3 L1292 1320 L1291.8 1320 L1291.8 1358" stroke="#0000ff" stroke-width="3.9"/>
</g>
<clipPath id="c15"><rect x="820.4" y="874" width="470.5" height="470.5"/></clipPath>
<g clip-path="url(#c15)" class="ct">
<path d="M1043.3 1030.1 L1068 1031.8 L1092.8 1044.7 L1117.6 1072.2 L1128 1096.9 L1118.3 1121.7 L1107.2 1146.4 L1092.8 1161.3 L1068 1165.3 L1043.3 1161.3 L1018.5 1147.4 L988 1121.7 L978.6 1096.9 L985.8 1072.2 L993.7 1061.3 L1005.1 1047.4 L1018.5 1036.5Z" stroke="#ff0000" stroke-width="3.9"/>
<path d="M1043.3 1053.8 L1018.5 1058.3 L1003.6 1072.2 L997.2 1096.9 L997.2 1121.7 L1005.1 1146.4 L1018.5 1159.3 L1043.3 1169.2 L1068 1169.2 L1092.8 1162.8 L1109.9 1146.4 L1116.3 1121.7 L1115.3 1096.9 L1093.3 1072.2 L1068 1056.3Z" stroke="#008000" stroke-width="3.9"/>
<path d="M1043.3 1055.3 L1068 1057.3 L1092.8 1073.1 L1110.1 1096.9 L1112.4 1121.7 L1099.2 1146.4 L1092.8 1152.4 L1068 1166.8 L1043.3 1166.8 L1018.5 1155.4 L1009.1 1146.4 L998.2 1121.7 L998.2 1096.9 L1012.1 1072.2 L1018.5 1066Z" stroke="#0000ff" stroke-width="3.9"/>
</g>
<polygon points="1055.7,1102.8 1057.1,1107.3 1061.8,1107.3 1058,1110.1 1059.5,1114.6 1055.7,1111.8 1051.8,1114.6 1053.3,1110.1 1049.5,1107.3 1054.2,1107.3" fill="#000" stroke="#000" stroke-width="0.7" stroke-linejoin="miter"/>
<g class="sp">
<path d="M820.4 874V729.4H1290.9V874"/>
<path d="M1290.9 874H1436V1344.6H1290.9"/>
<rect x="820.4" y="874" width="470.5" height="470.5"/>
</g>
<path class="tk" d="M938.5 1344.6v-5.2M938.5 874v5.2M820.4 1226.5h5.2M1290.9 1226.5h-5.2M1055.7 1344.6v-5.2M1055.7 874v5.2M820.4 1109.3h5.2M1290.9 1109.3h-5.2M1172.9 1344.6v-5.2M1172.9 874v5.2M820.4 992.1h5.2M1290.9 992.1h-5.2M899 874v-5.2M899 729.4v5.2M1290.9 1266h5.2M1436 1266h-5.2M977.3 874v-5.2M977.3 729.4v5.2M1290.9 1187.7h5.2M1436 1187.7h-5.2M1055.7 874v-5.2M1055.7 729.4v5.2M1290.9 1109.3h5.2M1436 1109.3h-5.2M1134 874v-5.2M1134 729.4v5.2M1290.9 1031h5.2M1436 1031h-5.2M1212.4 874v-5.2M1212.4 729.4v5.2M1290.9 952.6h5.2M1436 952.6h-5.2"/>
<g class="tx">
<text x="939.5" y="1365.3" text-anchor="middle">−0.05</text>
<text x="1056.7" y="1365.3" text-anchor="middle">0.00</text>
<text x="1173.9" y="1365.3" text-anchor="middle">0.05</text>
<text x="817.4" y="1233.3" text-anchor="end">−0.05</text>
<text x="814.2" y="1116.1" text-anchor="end">0.00</text>
<text x="814.2" y="998.9" text-anchor="end">0.05</text>
<text x="1056.2" y="1385.7" text-anchor="middle">X</text>
<text transform="translate(754.9 1109.3) rotate(-90)" text-anchor="middle">Y</text>
</g>
<clipPath id="c16"><rect x="1559.4" y="729.4" width="470.2" height="144.6"/></clipPath>
<g clip-path="url(#c16)" class="ln">
<path d="M1535 872.7 L1595.8 872.7 L1595.8 872 L1656.3 872 L1656.3 868.4 L1717 868.4 L1717 836.2 L1777.5 836.2 L1777.5 773.3 L1838.4 773.3 L1838.4 823.7 L1898.9 823.7 L1898.9 866 L1959.2 866 L1959.2 872.2 L2020.1 872.2 L2020.1 873.9 L2081 873.9" stroke="#ff0000" stroke-width="3.9"/>
<path d="M1517 873.9 L1573 873.9 L1573 872.7 L1628.8 872.7 L1628.8 871.7 L1684.7 871.7 L1684.7 854.1 L1740.4 854.1 L1740.4 777.1 L1796.1 777.1 L1796.1 801 L1852.1 801 L1852.1 862 L1907.8 862 L1907.8 872 L1963.5 872 L1963.5 873.9 L2019 873.9 L2019 873.9 L2075 873.9" stroke="#008000" stroke-width="3.9"/>
<path d="M1551 873.9 L1594.5 873.9 L1594.5 873.9 L1638 873.9 L1638 873.9 L1681.8 873.9 L1681.8 870.8 L1725.4 870.8 L1725.4 837.3 L1769.1 837.3 L1769.1 745.3 L1812.9 745.3 L1812.9 839 L1856.4 839 L1856.4 870.8 L1900.1 870.8 L1900.1 873.9 L1944 873.9 L1944 873.9 L1988 873.9 L1988 873.9 L2031.5 873.9" stroke="#0000ff" stroke-width="3.9"/>
</g>
<clipPath id="c17"><rect x="2029.6" y="874" width="144.9" height="470.5"/></clipPath>
<g clip-path="url(#c17)" class="ln">
<path d="M2030.4 860 L2030.4 902 L2031 902 L2031 944 L2034 944 L2034 986 L2043.6 986 L2043.6 1028.2 L2074 1028.2 L2074 1070.2 L2115 1070.2 L2115 1112.2 L2111.4 1112.2 L2111.4 1154.2 L2070 1154.2 L2070 1196.2 L2042 1196.2 L2042 1238.2 L2033.6 1238.2 L2033.6 1280.2 L2031.6 1280.2 L2031.6 1322.2 L2030.4 1322.2 L2030.4 1364" stroke="#ff0000" stroke-width="3.9"/>
<path d="M2030.2 855 L2030.2 890 L2030.4 890 L2030.4 925 L2030.6 925 L2030.6 960 L2032 960 L2032 995.4 L2037.6 995.4 L2037.6 1030.5 L2061 1030.5 L2061 1065.6 L2108 1065.6 L2108 1100.7 L2123.4 1100.7 L2123.4 1135.8 L2078.6 1135.8 L2078.6 1170.9 L2046 1170.9 L2046 1206 L2035 1206 L2035 1241.1 L2032 1241.1 L2032 1276.2 L2030.6 1276.2 L2030.6 1311 L2030.4 1311 L2030.4 1346" stroke="#008000" stroke-width="3.9"/>
<path d="M2030.2 869 L2030.2 902 L2030.3 902 L2030.3 935 L2030.4 935 L2030.4 967.7 L2030.8 967.7 L2030.8 1000.6 L2031.6 1000.6 L2031.6 1033.5 L2042 1033.5 L2042 1066.4 L2107 1066.4 L2107 1099.3 L2171 1099.3 L2171 1132.2 L2075.6 1132.2 L2075.6 1165.1 L2037.6 1165.1 L2037.6 1198 L2032 1198 L2032 1230.9 L2030.6 1230.9 L2030.6 1263.8 L2030.4 1263.8 L2030.4 1297 L2030.3 1297 L2030.3 1330 L2030.2 1330 L2030.2 1363" stroke="#0000ff" stroke-width="3.9"/>
</g>
<clipPath id="c18"><rect x="1559.4" y="874" width="470.2" height="470.5"/></clipPath>
<g clip-path="url(#c18)" class="ct">
<path d="M1782.1 1033.7 L1806.9 1033.2 L1828.2 1047.3 L1831.6 1049.8 L1854.1 1072 L1856.4 1086.1 L1860.1 1096.8 L1857.6 1121.5 L1849.2 1146.3 L1831.6 1159.6 L1806.9 1161.1 L1782.1 1155.2 L1761.1 1146.3 L1757.4 1143.8 L1732.6 1124 L1731.1 1121.5 L1722 1096.8 L1725 1072 L1732.6 1063.1 L1749 1047.3 L1757.4 1038.6Z" stroke="#ff0000" stroke-width="3.9"/>
<path d="M1782.1 1054.5 L1806.9 1061.6 L1822 1072 L1831.6 1075.5 L1852.7 1096.8 L1854.6 1121.5 L1846 1146.3 L1831.6 1158.6 L1806.9 1168 L1782.1 1168 L1757.4 1153.7 L1749.5 1146.3 L1737.1 1121.5 L1736.6 1096.8 L1748 1072 L1757.4 1063.1Z" stroke="#008000" stroke-width="3.9"/>
<path d="M1782.1 1069.6 L1787.1 1072 L1806.9 1073 L1831.1 1096.8 L1831.6 1108.2 L1836.1 1121.5 L1819 1146.3 L1806.9 1156.2 L1782.1 1153.7 L1772.2 1146.3 L1757.4 1128.2 L1752.2 1121.5 L1748 1096.8 L1757.4 1086.1Z" stroke="#0000ff" stroke-width="3.9"/>
</g>
<polygon points="1794.5,1102.8 1796,1107.3 1800.7,1107.3 1796.9,1110.1 1798.3,1114.6 1794.5,1111.8 1790.7,1114.6 1792.1,1110.1 1788.3,1107.3 1793,1107.3" fill="#000" stroke="#000" stroke-width="0.7" stroke-linejoin="miter"/>
<g class="sp">
<path d="M1559.4 874V729.4H2029.6V874"/>
<path d="M2029.6 874H2174.5V1344.6H2029.6"/>
<rect x="1559.4" y="874" width="470.2" height="470.5"/>
</g>
<path class="tk" d="M1677.3 1344.6v-5.2M1677.3 874v5.2M1559.4 1226.5h5.2M2029.6 1226.5h-5.2M1794.5 1344.6v-5.2M1794.5 874v5.2M1559.4 1109.3h5.2M2029.6 1109.3h-5.2M1911.7 1344.6v-5.2M1911.7 874v5.2M1559.4 992.1h5.2M2029.6 992.1h-5.2M1637.8 874v-5.2M1637.8 729.4v5.2M2029.6 1266h5.2M2174.5 1266h-5.2M1716.2 874v-5.2M1716.2 729.4v5.2M2029.6 1187.7h5.2M2174.5 1187.7h-5.2M1794.5 874v-5.2M1794.5 729.4v5.2M2029.6 1109.3h5.2M2174.5 1109.3h-5.2M1872.8 874v-5.2M1872.8 729.4v5.2M2029.6 1031h5.2M2174.5 1031h-5.2M1951.2 874v-5.2M1951.2 729.4v5.2M2029.6 952.6h5.2M2174.5 952.6h-5.2"/>
<g class="tx">
<text x="1678.3" y="1365.3" text-anchor="middle">−0.05</text>
<text x="1795.5" y="1365.3" text-anchor="middle">0.00</text>
<text x="1912.7" y="1365.3" text-anchor="middle">0.05</text>
<text x="1556.4" y="1233.3" text-anchor="end">−0.05</text>
<text x="1553.2" y="1116.1" text-anchor="end">0.00</text>
<text x="1553.2" y="998.9" text-anchor="end">0.05</text>
<text x="1795" y="1385.7" text-anchor="middle">X</text>
<text transform="translate(1493.9 1109.3) rotate(-90)" text-anchor="middle">Y</text>
</g>
</svg>
</body>
</html>
